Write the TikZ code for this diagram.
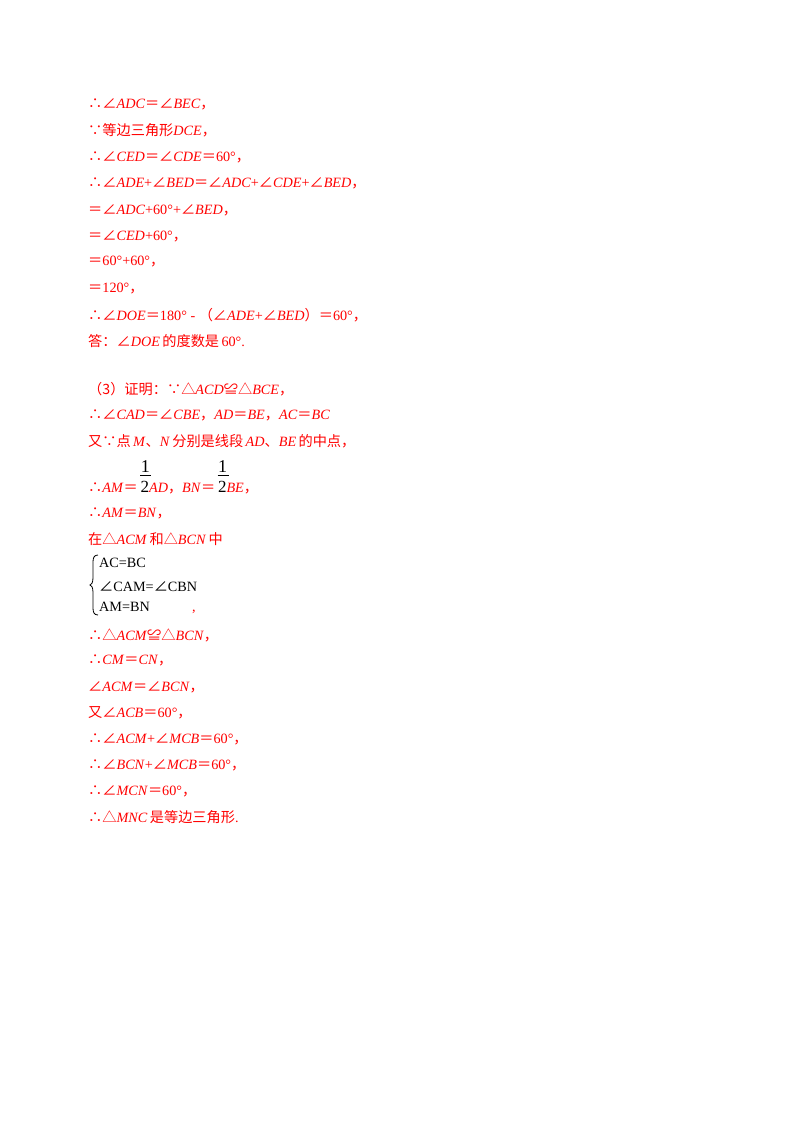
\documentclass[tikz,border=0pt]{standalone}
\usepackage{fontspec}
\setmainfont{Liberation Serif}
\newfontfamily\cjkfont{Noto Sans CJK SC}
\newcommand\cjk[1]{{\cjkfont #1}}
\newcommand\mi[1]{\textit{#1}}
\newcommand\ang{\cjk{∠}}
\newcommand\tri{\cjk{△}}
\newcommand\eq{\cjk{＝}}
\newcommand\cm{\cjk{，}}
\newcommand\so{\cjk{∴}}
\newcommand\as{\cjk{∵}}
\newcommand\half{\rlap{\raisebox{20pt}{\color{black}\fontsize{18}{18}\selectfont\,1}}\rlap{\raisebox{16pt}{\color{black}\,\rule{11pt}{0.8pt}}}{\color{black}\fontsize{17}{17}\selectfont\,2}}
\tikzset{
  row/.style={anchor=west, inner sep=0pt, text=red, font=\fontsize{14.2}{16}\selectfont},
  blk/.style={anchor=west, inner sep=0pt, text=black, font=\fontsize{14.2}{16}\selectfont}
}
\begin{document}
\begin{tikzpicture}[x=1pt, y=-1pt]
  \useasboundingbox (0,0) rectangle (800,1132);
  % part (2)
  \node[row] (l1) at (88,104) {\so\ang\mi{ADC}\eq\ang\mi{BEC}\cm};
  \node[row] (l2) at (88,130) {\as\cjk{等边三角形}\mi{DCE}\cm};
  \node[row] (l3) at (88,157) {\so\ang\mi{CED}\eq\ang\mi{CDE}\eq60°\cm};
  \node[row] (l4) at (88,183) {\so\ang\mi{ADE}+\ang\mi{BED}\eq\ang\mi{ADC}+\ang\mi{CDE}+\ang\mi{BED}\cm};
  \node[row] (l5) at (88,210) {\eq\ang\mi{ADC}+60°+\ang\mi{BED}\cm};
  \node[row] (l6) at (88,236) {\eq\ang\mi{CED}+60°\cm};
  \node[row] (l7) at (88,262) {\eq60°+60°\cm};
  \node[row] (l8) at (88,289) {\eq120°\cm};
  \node[row] (l9) at (88,315) {\so\ang\mi{DOE}\eq180° - \cjk{（}\ang\mi{ADE}+\ang\mi{BED}\cjk{）}\eq60°\cm};
  \node[row] (l10) at (88,341) {\cjk{答：}\ang\mi{DOE}\,\cjk{的度数是}\,60°.};
  % part (3)
  \node[row] (m1) at (88,389) {\cjk{（3）证明：}\as\tri\mi{ACD}\cjk{≌}\tri\mi{BCE}\cm};
  \node[row] (m2) at (88,415) {\so\ang\mi{CAD}\eq\ang\mi{CBE}\cm\mi{AD}\eq\mi{BE}\cm\mi{AC}\eq\mi{BC}};
  \node[row] (m3) at (88,441) {\cjk{又}\as\cjk{点}\,\mi{M}\cjk{、}\mi{N}\,\cjk{分别是线段}\,\mi{AD}\cjk{、}\mi{BE}\,\cjk{的中点}\cm};
  \node[row, anchor=base west] (m4) at (88,492) {\so\mi{AM}\eq\half\mi{AD}\cm\mi{BN}\eq\half\mi{BE}\cm};
  \node[row] (m5) at (88,513) {\so\mi{AM}\eq\mi{BN}\cm};
  \node[row] (m6) at (88,539) {\cjk{在}\tri\mi{ACM}\,\cjk{和}\tri\mi{BCN}\,\cjk{中}};
  \node[blk] (b1) at (99,563) {AC=BC};
  \node[blk] (b2) at (99,587) {\ang CAM=\ang CBN};
  \node[blk] (b3) at (99,607) {AM=BN};
  \draw[line width=0.8pt] (98,555) coordinate (ba) .. controls +(-4,0) and +(0,-4) .. ++(-5,7)
    -- ++(0,16) .. controls +(0,5) and +(1,0) .. ++(-3,7) coordinate (bm)
    .. controls +(1,0) and +(0,-5) .. ++(3,7) -- ++(0,16)
    .. controls +(0,4) and +(-4,0) .. ++(5,7) coordinate (bb);
  \node[row] (m7) at (192,612) {,};
  \node[row] (m8) at (88,635) {\so\tri\mi{ACM}\cjk{≌}\tri\mi{BCN}\cm};
  \node[row] (m9) at (88,660) {\so\mi{CM}\eq\mi{CN}\cm};
  \node[row] (m10) at (88,687) {\ang\mi{ACM}\eq\ang\mi{BCN}\cm};
  \node[row] (m11) at (88,713) {\cjk{又}\ang\mi{ACB}\eq60°\cm};
  \node[row] (m12) at (88,739) {\so\ang\mi{ACM}+\ang\mi{MCB}\eq60°\cm};
  \node[row] (m13) at (88,765) {\so\ang\mi{BCN}+\ang\mi{MCB}\eq60°\cm};
  \node[row] (m14) at (88,791) {\so\ang\mi{MCN}\eq60°\cm};
  \node[row] (m15) at (88,817) {\so\tri\mi{MNC}\,\cjk{是等边三角形}.};
\end{tikzpicture}
\end{document}
